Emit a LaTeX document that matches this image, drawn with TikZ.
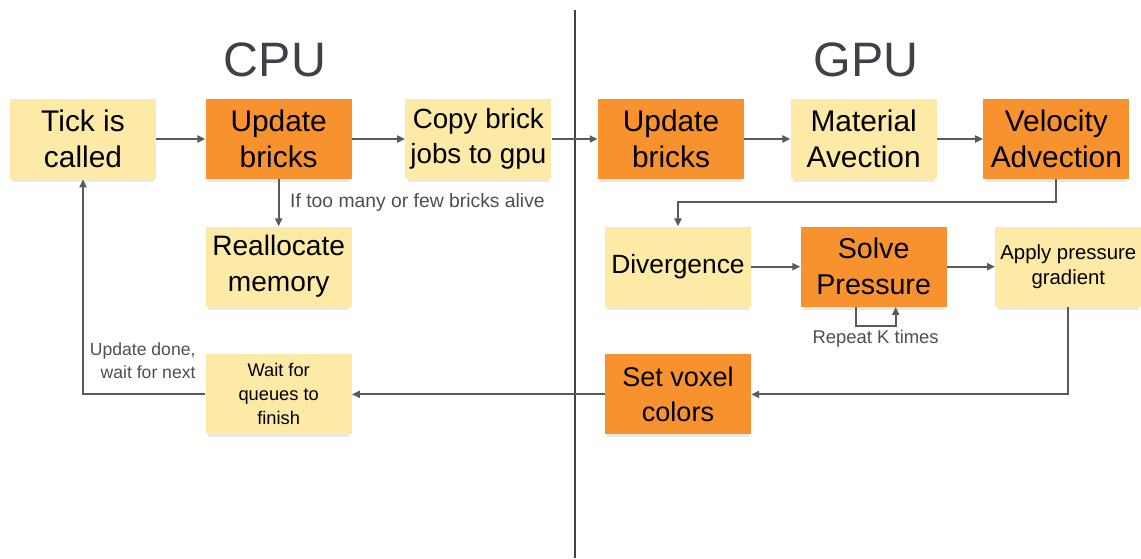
\documentclass[tikz,border=0pt]{standalone}
\usepackage{fontspec}
\setmainfont{Liberation Sans}
\usetikzlibrary{arrows.meta, positioning, shadows}
\definecolor{stickyyellow}{HTML}{FDEAA7}
\definecolor{stickyorange}{HTML}{F7922F}
\definecolor{linegray}{HTML}{575B60}
\definecolor{notegray}{HTML}{4A4F56}
\definecolor{titlegray}{HTML}{3D4248}

\begin{document}
\begin{tikzpicture}[
  x=0.02cm, y=-0.02cm,
  task/.style={minimum width=2.92cm, minimum height=1.6cm, align=center, inner sep=0pt, font=\fontsize{17}{20.5}\selectfont,
    drop shadow={shadow xshift=0pt, shadow yshift=-2.5pt, opacity=0.18, shadow scale=0.97}},
  cool/.style={task, fill=stickyyellow},
  hot/.style={task, fill=stickyorange},
  flow/.style={-{Triangle[length=4.5pt, width=4pt]}, line width=1.1pt, linegray},
  note/.style={font=\fontsize{11}{13}\selectfont, text=notegray, align=center, inner sep=2pt},
  head/.style={font=\fontsize{27.5}{33}\selectfont, text=titlegray},
  node distance=0.94cm and 0.98cm
]
\useasboundingbox (0,0) rectangle (1141,558);

\node[head] (cpu) at (275,60) {CPU};
\node[head] (gpu) at (866,60) {GPU};
\draw[titlegray, line width=1.2pt] (575,10) -- (575,558);

\node[cool] (tick) at (83,139) {Tick is\\called};
\node[hot, right=0.98cm of tick] (updcpu) {Update\\bricks};
\node[cool, right=1.06cm of updcpu, font=\fontsize{15.8}{20}\selectfont] (copy) {Copy brick\\jobs to gpu};
\node[hot, right=0.92cm of copy] (updgpu) {Update\\bricks};
\node[cool, right=0.92cm of updgpu] (mat) {Material\\Avection};
\node[hot, right=0.92cm of mat] (vel) {Velocity\\Advection};

\node[cool, below=of updcpu, font=\fontsize{16}{20.5}\selectfont] (realloc) {Reallocate\\memory};
\node[cool, below=of updgpu, xshift=0.14cm, font=\fontsize{15}{18}\selectfont] (div) {Divergence};
\node[hot, right=0.98cm of div, font=\fontsize{16.3}{20.5}\selectfont] (solve) {Solve\\Pressure};
\node[cool, right=0.96cm of solve, font=\fontsize{11.6}{14.2}\selectfont] (apply) {Apply pressure\\gradient};

\node[hot, below=of div, font=\fontsize{15.4}{20}\selectfont] (setvox) {Set voxel\\colors};
\node[cool, below=of realloc, font=\fontsize{10.4}{13.7}\selectfont] (wait) {Wait for\\queues to\\finish};

\draw[flow] (tick) -- (updcpu);
\draw[flow] (updcpu) -- (copy);
\draw[flow] (copy) -- (updgpu);
\draw[flow] (updgpu) -- (mat);
\draw[flow] (mat) -- (vel);
\draw[flow] (updcpu) -- node[note, midway, anchor=west, xshift=4pt] {If too many or few bricks alive} (realloc);
\draw[flow] (vel.south) -- ++(0,23) -| (div.north);
\draw[flow] (div) -- (solve);
\draw[flow] (solve) -- (apply);
\draw[flow] ([xshift=-0.36cm]solve.south) -- ++(0,19) -| node[note, pos=0.25, below, font=\fontsize{10.5}{12.5}\selectfont] {Repeat K times} ([xshift=0.44cm]solve.south);
\draw[flow] (apply.south) |- (setvox.east);
\draw[flow] (setvox) -- (wait);
\draw[flow] (wait.west) -| (tick.south);
\node[note, align=right, anchor=east, font=\fontsize{10}{13}\selectfont] (done) at ([shift={(-6,7)}]wait.north west) {Update done,\\wait for next};
\end{tikzpicture}
\end{document}
